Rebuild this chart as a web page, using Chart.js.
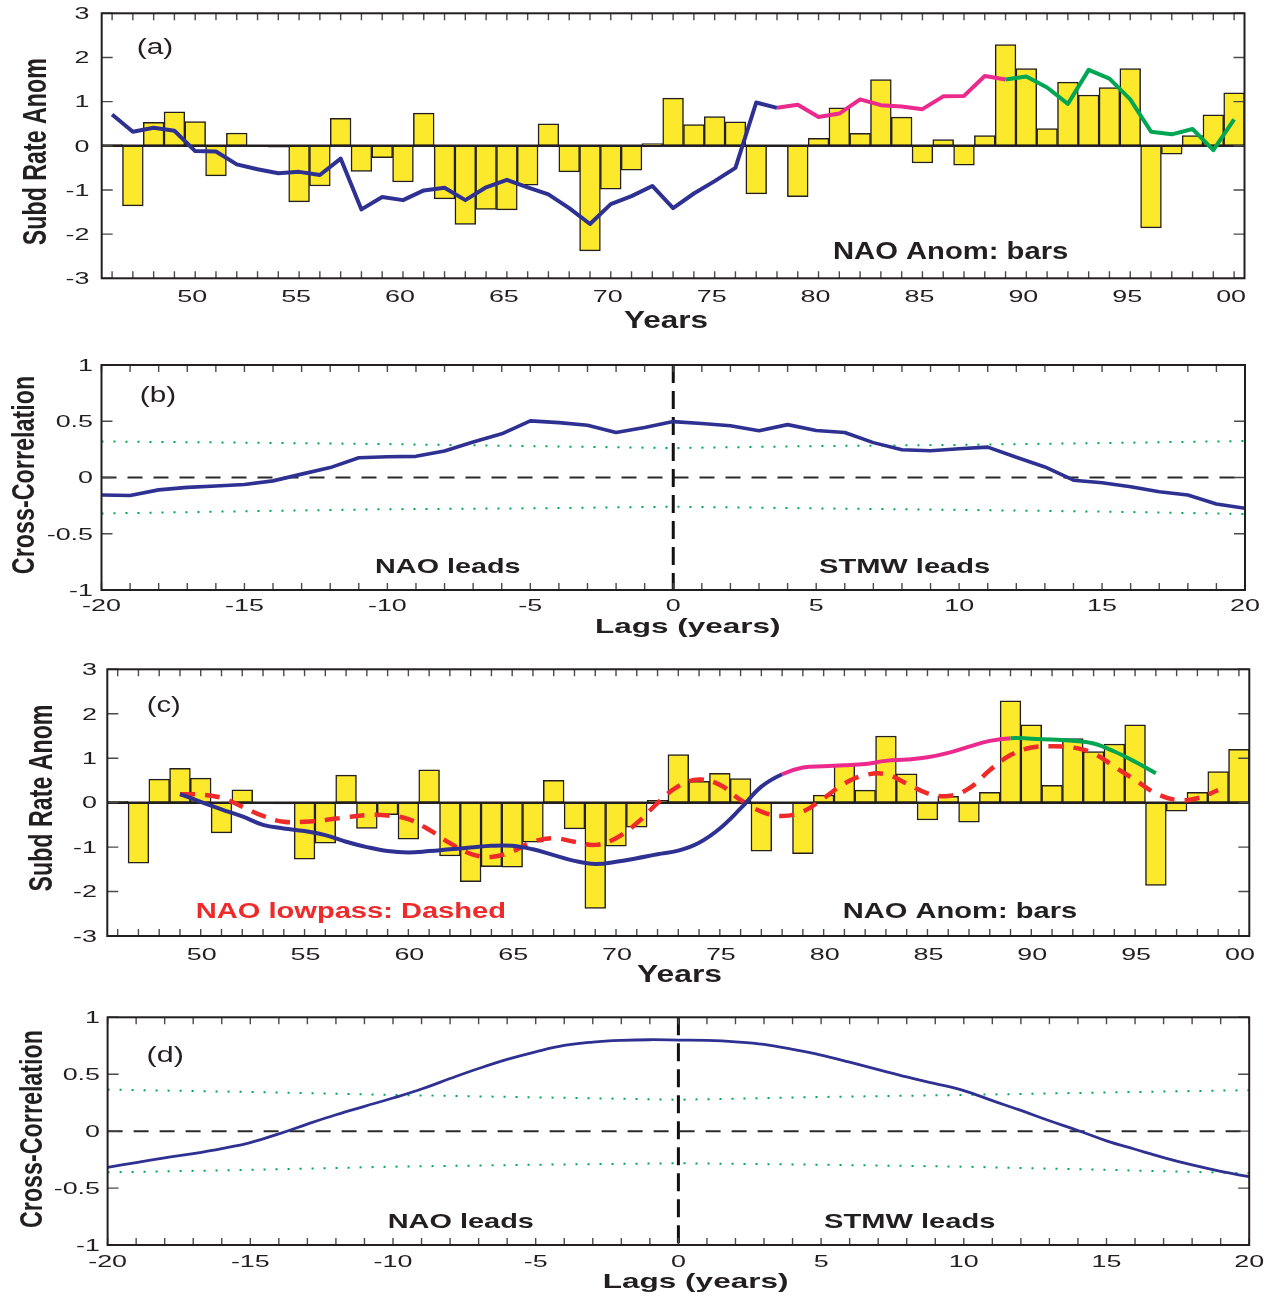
<!DOCTYPE html>
<html>
<head>
<meta charset="utf-8">
<script src="https://cdn.jsdelivr.net/npm/chart.js@4.4.1/dist/chart.umd.min.js"></script>
<style>
  html, body { margin: 0; padding: 0; background: #fff; }
  #page { position: relative; width: 1280px; height: 1298px; overflow: hidden; background: #fff; }
  #page canvas { position: absolute; left: 0; }
</style>
</head>
<body>
<div id="page">
  <canvas id="panelA" width="1280" height="340" style="top:0px;width:1280px;height:340px"></canvas>
  <canvas id="panelB" width="1280" height="320" style="top:340px;width:1280px;height:320px"></canvas>
  <canvas id="panelC" width="1280" height="340" style="top:660px;width:1280px;height:340px"></canvas>
  <canvas id="panelD" width="1280" height="298" style="top:1000px;width:1280px;height:298px"></canvas>
</div>
<script>
// ---------------- data ----------------
const years = [46,47,48,49,50,51,52,53,54,55,56,57,58,59,60,61,62,63,64,65,66,67,68,69,70,71,72,73,74,75,
  76,77,78,79,80,81,82,83,84,85,86,87,88,89,90,91,92,93,94,95,96,97,98,99,100];

// winter NAO index anomaly, one bar per year
const naoAnom = [0.03,-1.36,0.53,0.77,0.55,-0.68,0.29,0,-0.03,-1.27,-0.91,0.62,-0.58,-0.27,-0.82,0.74,-1.20,-1.78,-1.44,-1.45,
  -0.89,0.50,-0.59,-2.38,-0.98,-0.55,0.05,1.08,0.48,0.66,0.54,-1.09,0,-1.15,0.17,0.86,0.28,1.50,0.65,-0.39,
  0.14,-0.44,0.23,2.29,1.75,0.39,1.44,1.15,1.32,1.75,-1.86,-0.19,0.23,0.70,1.20];

// subduction rate anomaly (46..100); colour changes at the two break years
const subdRate = [0.71,0.32,0.41,0.34,-0.12,-0.13,-0.42,-0.53,-0.62,-0.59,-0.66,-0.29,-1.44,-1.16,-1.23,-1.01,-0.95,-1.23,-0.94,-0.77,
  -0.94,-1.10,-1.41,-1.77,-1.32,-1.14,-0.91,-1.41,-1.08,-0.80,-0.50,0.98,0.86,
  0.93,0.65,0.73,1.05,0.92,0.89,0.83,1.12,1.13,1.58,1.50,
  1.57,1.32,0.95,1.72,1.52,1.05,0.32,0.26,0.38,-0.10,0.60];
const breakPink = 78;
const breakGreen = 89;

// low-passed subduction rate (49..96)
const lowYears = [49,50,51,52,53,54,55,56,57,58,59,60,61,62,63,64,65,66,67,68,69,70,71,72,73,74,75,76,77,78,
  79,80,81,82,83,84,85,86,87,88,89,90,91,92,93,94,95,96];
const subdLowpass = [0.19,0.02,-0.15,-0.31,-0.50,-0.58,-0.64,-0.73,-0.88,-1.00,-1.09,-1.12,-1.09,-1.05,-1.01,-0.97,
  -0.97,-1.05,-1.18,-1.31,-1.38,-1.33,-1.25,-1.16,-1.08,-0.90,-0.58,-0.13,0.36,0.64,
  0.79,0.82,0.84,0.87,0.94,0.97,1.02,1.12,1.26,1.39,1.45,1.44,1.42,1.39,1.33,1.15,0.92,0.66];

// low-passed NAO (49..99)
const naoLowYears = [49,50,51,52,53,54,55,56,57,58,59,60,61,62,63,64,65,66,67,68,69,70,71,72,73,74,75,76,77,78,
  79,80,81,82,83,84,85,86,87,88,89,90,91,92,93,94,95,96,97,98,99];
const naoLowpass = [0.19,0.18,0.11,-0.09,-0.30,-0.43,-0.43,-0.39,-0.33,-0.28,-0.29,-0.37,-0.61,-0.91,-1.15,-1.22,
  -1.10,-0.88,-0.80,-0.88,-0.95,-0.80,-0.46,-0.01,0.37,0.52,0.40,0.06,-0.20,-0.30,
  -0.20,0.10,0.43,0.62,0.64,0.43,0.21,0.15,0.32,0.73,1.07,1.24,1.27,1.24,1.11,0.81,0.51,0.21,0.06,0.10,0.28];

// lagged cross-correlations
const lags = [-20,-19,-18,-17,-16,-15,-14,-13,-12,-11,-10,-9,-8,-7,-6,-5,-4,-3,-2,-1,0,
  1,2,3,4,5,6,7,8,9,10,11,12,13,14,15,16,17,18,19,20];
const xcorrRaw = [-0.156,-0.16,-0.11,-0.088,-0.076,-0.062,-0.03,0.03,0.088,0.176,0.185,0.188,0.235,0.315,0.388,0.503,0.488,0.465,0.40,0.444,0.497,
  0.48,0.46,0.415,0.47,0.418,0.40,0.31,0.247,0.238,0.256,0.27,0.18,0.094,-0.024,-0.047,-0.082,-0.126,-0.156,-0.235,-0.274];
const xcorrLowpass = [-0.318,-0.276,-0.235,-0.197,-0.153,-0.10,-0.024,0.062,0.144,0.218,0.291,0.37,0.462,0.55,0.63,0.697,0.753,0.782,0.797,0.803,0.80,
  0.797,0.785,0.762,0.718,0.668,0.606,0.541,0.476,0.418,0.356,0.268,0.182,0.091,0.006,-0.085,-0.159,-0.232,-0.297,-0.353,-0.40];

// significance levels
const sigLags = [-20,-15,-10,-5,0,5,10,15,20];
const sigRawUpper = [0.32,0.31,0.297,0.279,0.262,0.279,0.29,0.306,0.324];
const sigRawLower = [-0.32,-0.30,-0.282,-0.274,-0.26,-0.274,-0.288,-0.303,-0.324];
const sigLowUpper = [0.365,0.344,0.318,0.297,0.276,0.30,0.318,0.34,0.36];
const sigLowLower = [-0.362,-0.34,-0.312,-0.295,-0.282,-0.295,-0.312,-0.34,-0.37];

// tick values and labels
const yearTicks = [50,55,60,65,70,75,80,85,90,95,100];
const yearTickLabels = ['50','55','60','65','70','75','80','85','90','95','00'];
const lagTicks = [-20,-15,-10,-5,0,5,10,15,20];
const lagTickLabels = ['-20','-15','-10','-5','0','5','10','15','20'];
const anomTicks = [-3,-2,-1,0,1,2,3];
const anomTickLabels = ['-3','-2','-1','0','1','2','3'];
const corrTicks = [-1,-0.5,0,0.5,1];
const corrTickLabels = ['-1','-0.5','0','0.5','1'];

// ---------------- styles ----------------
const INK = '#231f20';
const BAR_FILL = '#fce92b';
const BLUE = '#2e3192';
const PINK = '#ec2a8e';
const GREEN = '#00a651';
const RED = '#ee2a2a';
const SIG = '#00a651';
const FONT = "'Liberation Sans', Arial, Helvetica, sans-serif";
const TICK_SIZE = 16;
const TICK_SX = 1.68;

const pts = (xs, ys) => xs.map((x, i) => ({ x: x, y: ys[i] }));

function stretchedText(ctx, str, x0, x1, base, font, color) {
  ctx.save();
  ctx.font = font;
  ctx.fillStyle = color;
  ctx.textAlign = 'left';
  ctx.textBaseline = 'alphabetic';
  const w = ctx.measureText(str).width;
  ctx.translate(x0, base);
  ctx.scale((x1 - x0) / w, 1);
  ctx.fillText(str, 0, 0);
  ctx.restore();
}

function verticalTitle(ctx, str, xBase, cy, size, length, thick) {
  ctx.save();
  ctx.font = 'bold ' + size + 'px ' + FONT;
  ctx.fillStyle = INK;
  ctx.textAlign = 'center';
  ctx.textBaseline = 'alphabetic';
  const w = ctx.measureText(str).width;
  ctx.translate(xBase, cy);
  ctx.scale(thick, 1);
  ctx.rotate(-Math.PI / 2);
  ctx.scale(length / w, 1);
  ctx.fillText(str, 0, 0);
  ctx.restore();
}

function tickText(ctx, str, x, base, align) {
  ctx.save();
  ctx.font = TICK_SIZE + 'px ' + FONT;
  ctx.fillStyle = INK;
  ctx.textAlign = align;
  ctx.textBaseline = 'alphabetic';
  ctx.translate(x, base);
  ctx.scale(TICK_SX, 1);
  ctx.fillText(str, 0, 0);
  ctx.restore();
}

function panelPlugin(cfg) {
  return {
    id: 'panelDecor',
    beforeDatasetsDraw(chart) {
      if (!cfg.lagRefs) return;
      const { ctx, chartArea: a, scales: { x, y } } = chart;
      ctx.save();
      ctx.beginPath();
      ctx.rect(a.left, a.top, a.right - a.left, a.bottom - a.top);
      ctx.clip();
      const y0 = y.getPixelForValue(0);
      ctx.strokeStyle = '#2a2a2a';
      ctx.lineWidth = 2;
      ctx.setLineDash([15, 11]);
      ctx.beginPath(); ctx.moveTo(a.left, y0); ctx.lineTo(a.right, y0); ctx.stroke();
      const x0 = x.getPixelForValue(0);
      ctx.strokeStyle = '#111';
      ctx.lineWidth = 3;
      ctx.setLineDash([18, 8]);
      ctx.beginPath(); ctx.moveTo(x0, a.top); ctx.lineTo(x0, a.bottom); ctx.stroke();
      ctx.restore();
    },
    afterDatasetDraw(chart, args) {
      if (!cfg.zeroLine || args.meta.type !== 'bar') return;
      const { ctx, chartArea: a, scales: { y } } = chart;
      const y0 = y.getPixelForValue(0);
      ctx.save();
      ctx.strokeStyle = INK;
      ctx.lineWidth = 2.5;
      ctx.beginPath(); ctx.moveTo(a.left, y0); ctx.lineTo(a.right, y0); ctx.stroke();
      ctx.restore();
    },
    afterDraw(chart) {
      const { ctx, chartArea: a, scales: { x, y } } = chart;
      const off = cfg.top;
      ctx.save();
      // inward tick marks
      ctx.strokeStyle = '#4a4a4a';
      ctx.lineWidth = 1.4;
      ctx.beginPath();
      cfg.minorX.forEach(v => {
        const px = x.getPixelForValue(v);
        ctx.moveTo(px, a.bottom); ctx.lineTo(px, a.bottom - 7);
        ctx.moveTo(px, a.top); ctx.lineTo(px, a.top + 7);
      });
      cfg.yTicks.forEach(v => {
        const py = y.getPixelForValue(v);
        ctx.moveTo(a.left, py); ctx.lineTo(a.left + 11, py);
        ctx.moveTo(a.right, py); ctx.lineTo(a.right - 11, py);
      });
      ctx.stroke();
      // frame
      ctx.strokeStyle = INK;
      ctx.lineWidth = 2;
      ctx.strokeRect(a.left, a.top, a.right - a.left, a.bottom - a.top);
      ctx.restore();

      // tick labels
      cfg.xTicks.forEach((v, i) => tickText(ctx, cfg.xTickLabels[i], x.getPixelForValue(v) + cfg.xLabelShift, cfg.xLabelBase - off, 'center'));
      cfg.yTicks.forEach((v, i) => tickText(ctx, cfg.yTickLabels[i], cfg.yLabelRight, y.getPixelForValue(v) + 5.8, 'right'));

      // titles and annotations
      cfg.texts.forEach(t => stretchedText(ctx, t.s, t.x0, t.x1, t.base - off,
        (t.bold ? 'bold ' : '') + t.size + 'px ' + FONT, t.color || INK));
      const vt = cfg.vtitle;
      verticalTitle(ctx, vt.s, vt.xBase, vt.cy - off, vt.size, vt.length, vt.thick);
    }
  };
}

function makeChart(id, cfg, datasets) {
  const a = cfg.area;
  return new Chart(document.getElementById(id), {
    type: 'bar',
    data: { datasets: datasets },
    options: {
      responsive: false,
      animation: false,
      devicePixelRatio: 1,
      layout: { autoPadding: false, padding: { left: 0, right: 1280 - a.right, top: a.top, bottom: 0 } },
      plugins: { legend: { display: false }, tooltip: { enabled: false } },
      scales: {
        x: {
          type: 'linear', min: cfg.xMin, max: cfg.xMax, offset: false,
          grid: { display: false, drawTicks: false, offset: false },
          border: { display: false },
          ticks: { display: false },
          afterFit: s => { s.height = cfg.height - a.bottom; }
        },
        y: {
          type: 'linear', min: cfg.yMin, max: cfg.yMax,
          grid: { display: false, drawTicks: false },
          border: { display: false },
          ticks: { display: false },
          afterFit: s => { s.width = a.left; }
        }
      }
    },
    plugins: [panelPlugin(cfg)]
  });
}

function naoBars() {
  return {
    type: 'bar', data: pts(years, naoAnom), backgroundColor: BAR_FILL, borderColor: INK,
    borderWidth: 1.5, borderSkipped: false, barPercentage: 1, categoryPercentage: 1, order: 3
  };
}
const lineBase = { type: 'line', pointRadius: 0, fill: false, borderJoinStyle: 'round', order: 1 };
const segColour = c => {
  const x0 = c.p0.parsed.x;
  return x0 >= breakGreen ? GREEN : (x0 >= breakPink ? PINK : BLUE);
};

// (a) NAO bars with subduction-rate anomaly
makeChart('panelA', {
  top: 0, height: 340, area: { left: 101.7, right: 1244.5, top: 13.3, bottom: 278.3 },
  xMin: 45.5, xMax: 100.5, yMin: -3, yMax: 3, zeroLine: true,
  minorX: years, xTicks: yearTicks, xTickLabels: yearTickLabels, xLabelBase: 302, xLabelShift: -3,
  yTicks: anomTicks, yTickLabels: anomTickLabels, yLabelRight: 89.5,
  texts: [
    { s: '(a)', x0: 136.7, x1: 173.3, base: 54, size: 22 },
    { s: 'NAO Anom: bars', x0: 833, x1: 1068.3, base: 259.3, size: 23, bold: true },
    { s: 'Years', x0: 624, x1: 708, base: 328, size: 23, bold: true }
  ],
  vtitle: { s: 'Subd Rate Anom', xBase: 46, cy: 151.7, size: 23, length: 187, thick: 1.45 }
}, [
  naoBars(),
  Object.assign({}, lineBase, { data: pts(years, subdRate), borderColor: BLUE, borderWidth: 4,
    segment: { borderColor: segColour } })
]);

// (b) cross-correlation of the annual series
makeChart('panelB', {
  top: 340, height: 320, area: { left: 101.5, right: 1245, top: 25, bottom: 250 },
  xMin: -20, xMax: 20, yMin: -1, yMax: 1, lagRefs: true,
  minorX: lags, xTicks: lagTicks, xTickLabels: lagTickLabels, xLabelBase: 611, xLabelShift: 0,
  yTicks: corrTicks, yTickLabels: corrTickLabels, yLabelRight: 93,
  texts: [
    { s: '(b)', x0: 139.8, x1: 176.1, base: 402, size: 22 },
    { s: 'NAO leads', x0: 375.1, x1: 520.5, base: 573.3, size: 21, bold: true },
    { s: 'STMW leads', x0: 819, x1: 990.2, base: 573.3, size: 21, bold: true },
    { s: 'Lags (years)', x0: 595, x1: 780.6, base: 633.3, size: 21, bold: true }
  ],
  vtitle: { s: 'Cross-Correlation', xBase: 34, cy: 475, size: 23, length: 198.3, thick: 1.35 }
}, [
  Object.assign({}, lineBase, { data: pts(sigLags, sigRawUpper), borderColor: SIG, borderWidth: 2, borderDash: [2, 10], order: 2 }),
  Object.assign({}, lineBase, { data: pts(sigLags, sigRawLower), borderColor: SIG, borderWidth: 2, borderDash: [2, 10], order: 2 }),
  Object.assign({}, lineBase, { data: pts(lags, xcorrRaw), borderColor: BLUE, borderWidth: 3.6 })
]);

// (c) NAO bars with low-passed subduction rate and low-passed NAO
makeChart('panelC', {
  top: 660, height: 340, area: { left: 107.3, right: 1249.3, top: 9.3, bottom: 276 },
  xMin: 45.5, xMax: 100.5, yMin: -3, yMax: 3, zeroLine: true,
  minorX: years, xTicks: yearTicks, xTickLabels: yearTickLabels, xLabelBase: 960, xLabelShift: 1,
  yTicks: anomTicks, yTickLabels: anomTickLabels, yLabelRight: 97,
  texts: [
    { s: '(c)', x0: 146.7, x1: 180.7, base: 712, size: 22 },
    { s: 'NAO lowpass: Dashed', x0: 195.7, x1: 506, base: 917.7, size: 22, bold: true, color: RED },
    { s: 'NAO Anom: bars', x0: 842.7, x1: 1077.3, base: 917.5, size: 22, bold: true },
    { s: 'Years', x0: 637, x1: 722, base: 982, size: 23, bold: true }
  ],
  vtitle: { s: 'Subd Rate Anom', xBase: 52, cy: 798, size: 23, length: 187, thick: 1.45 }
}, [
  naoBars(),
  Object.assign({}, lineBase, { data: pts(naoLowYears, naoLowpass), borderColor: RED, borderWidth: 4.5,
    borderDash: [15, 10], tension: 0.4, order: 2 }),
  Object.assign({}, lineBase, { data: pts(lowYears, subdLowpass), borderColor: BLUE, borderWidth: 4, tension: 0.4,
    segment: { borderColor: segColour } })
]);

// (d) cross-correlation of the low-passed series
makeChart('panelD', {
  top: 1000, height: 298, area: { left: 107.6, right: 1249.2, top: 17.3, bottom: 245 },
  xMin: -20, xMax: 20, yMin: -1, yMax: 1, lagRefs: true,
  minorX: lags, xTicks: lagTicks, xTickLabels: lagTickLabels, xLabelBase: 1266.7, xLabelShift: 0,
  yTicks: corrTicks, yTickLabels: corrTickLabels, yLabelRight: 100,
  texts: [
    { s: '(d)', x0: 146.6, x1: 183.8, base: 1062, size: 22 },
    { s: 'NAO leads', x0: 387.7, x1: 533.9, base: 1228.3, size: 21, bold: true },
    { s: 'STMW leads', x0: 824.1, x1: 995.3, base: 1228.3, size: 21, bold: true },
    { s: 'Lags (years)', x0: 602.8, x1: 788.5, base: 1288.3, size: 21, bold: true }
  ],
  vtitle: { s: 'Cross-Correlation', xBase: 42, cy: 1129, size: 23, length: 198, thick: 1.35 }
}, [
  Object.assign({}, lineBase, { data: pts(sigLags, sigLowUpper), borderColor: SIG, borderWidth: 2, borderDash: [2, 10], order: 2 }),
  Object.assign({}, lineBase, { data: pts(sigLags, sigLowLower), borderColor: SIG, borderWidth: 2, borderDash: [2, 10], order: 2 }),
  Object.assign({}, lineBase, { data: pts(lags, xcorrLowpass), borderColor: BLUE, borderWidth: 2.8, tension: 0.4 })
]);
</script>
</body>
</html>
